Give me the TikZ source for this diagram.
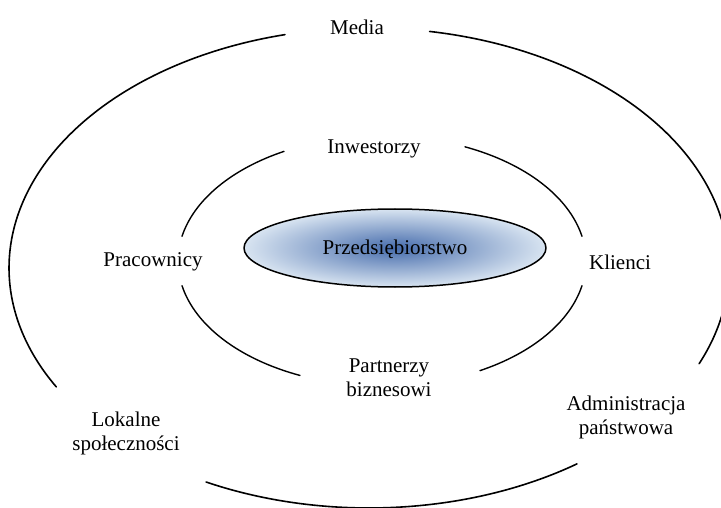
\documentclass[tikz,border=0pt]{standalone}
\usepackage{fontspec}
\setmainfont{Liberation Serif}
\definecolor{coreblue}{RGB}{70,108,172}
\definecolor{corepale}{RGB}{216,228,241}
\begin{document}
\begin{tikzpicture}[x=1pt, y=-1pt, font=\fontsize{21}{24}\selectfont, line join=round, line cap=round]
	\def\ocx{369}\def\ocy{268}\def\orx{360}\def\ory{240}
	\def\icx{382}\def\icy{261}\def\irx{204}\def\iry{125}
	\useasboundingbox (0,0) rectangle (721,508);
	% outer ring, three pieces
	\draw[line width=1.6] (\ocx,\ocy) ++(-80.3:{\orx} and {\ory}) arc[start angle=-80.3, end angle=23.5, x radius=\orx, y radius=\ory];
	\draw[line width=1.6] (\ocx,\ocy) ++(54.7:{\orx} and {\ory}) arc[start angle=54.7, end angle=116.9, x radius=\orx, y radius=\ory];
	\draw[line width=1.6] (\ocx,\ocy) ++(150.3:{\orx} and {\ory}) arc[start angle=150.3, end angle=256.5, x radius=\orx, y radius=\ory];
	% inner ring, four pieces
	\draw[line width=1.4] (\icx,\icy) ++(-66:{\irx} and {\iry}) arc[start angle=-66, end angle=-11.4, x radius=\irx, y radius=\iry];
	\draw[line width=1.4] (\icx,\icy) ++(11.4:{\irx} and {\iry}) arc[start angle=11.4, end angle=61.3, x radius=\irx, y radius=\iry];
	\draw[line width=1.4] (\icx,\icy) ++(113.7:{\irx} and {\iry}) arc[start angle=113.7, end angle=168.6, x radius=\irx, y radius=\iry];
	\draw[line width=1.4] (\icx,\icy) ++(191.4:{\irx} and {\iry}) arc[start angle=191.4, end angle=241.3, x radius=\irx, y radius=\iry];
	% core
	\shadedraw[inner color=coreblue, outer color=corepale, line width=1.5] (395,248) ellipse [x radius=151, y radius=39];
	\node (core) at (395,249) {Przedsiębiorstwo};
	% labels
	\node (media) at (357,27) {Media};
	\node (inwest) at (374,149) {Inwestorzy};
	\node (prac) at (153,262) {Pracownicy};
	\node (klienci) at (620,262) {Klienci};
	\node[align=center] (partn) at (389,378) {Partnerzy\\biznesowi};
	\node[align=center] (lokal) at (126,433) {Lokalne\\społeczności};
	\node[align=center] (admin) at (626,417) {Administracja\\państwowa};
\end{tikzpicture}
\end{document}
